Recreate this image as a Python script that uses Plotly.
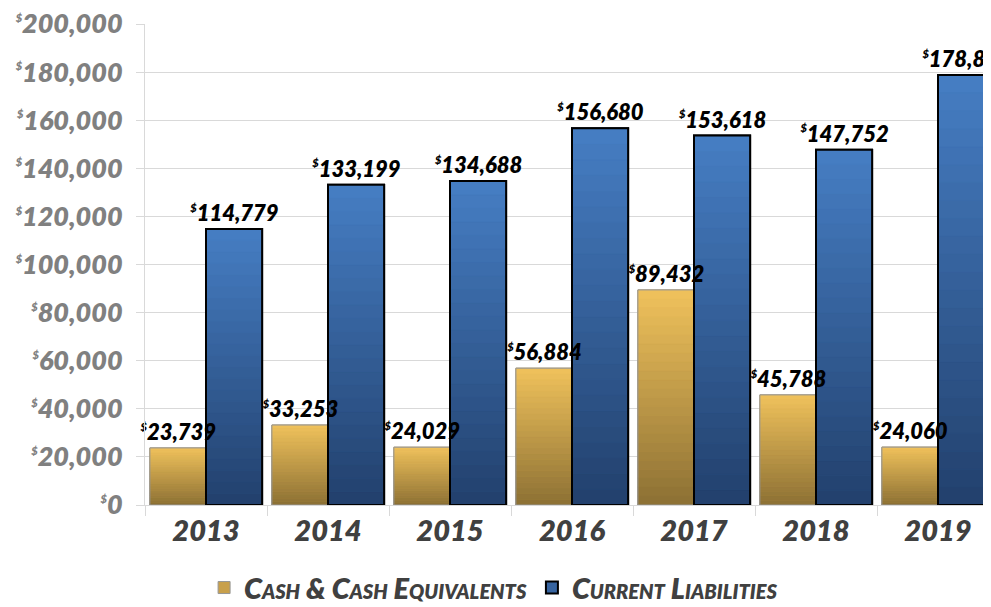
import plotly.graph_objects as go

# Data
years = ['2013', '2014', '2015', '2016', '2017', '2018', '2019']
cash = [23739, 33253, 24029, 56884, 89432, 45788, 24060]
liabilities = [114779, 133199, 134688, 156680, 153618, 147752, 178828]
y_ticks = list(range(0, 200001, 20000))

SMALL_DOLLAR = '<sup><span style="font-size:11px">$</span></sup>'
y_tick_labels = [SMALL_DOLLAR + '{:,}'.format(v) for v in y_ticks]

N_STEPS = 24


def mix(c1, c2, t):
    """Blend two rgb tuples, t=0 -> c1, t=1 -> c2."""
    return 'rgb({},{},{})'.format(*[int(round(a + (b - a) * t)) for a, b in zip(c1, c2)])


def money(v):
    return SMALL_DOLLAR + '{:,}'.format(v)


series = [
    dict(name='Cash & Cash Equivalents', values=cash, group='cash',
         top=(240, 194, 92), bottom=(140, 112, 52), mid='rgb(200,160,75)',
         line_color='rgb(150,150,150)', line_width=1),
    dict(name='Current Liabilities', values=liabilities, group='liab',
         top=(70, 126, 196), bottom=(34, 64, 108), mid='rgb(55,100,160)',
         line_color='black', line_width=2),
]

label_font = dict(family='Lato, DejaVu Sans', size=22, color='black', weight=800, style='italic')

fig = go.Figure()

# Legend swatches (drawn first, hidden behind gradient)
for s in series:
    fig.add_trace(go.Bar(
        x=years, y=s['values'], name=s['name'], offsetgroup=s['group'],
        marker=dict(color=s['mid'], line=dict(color=s['line_color'], width=s['line_width'])),
        hoverinfo='skip',
    ))

# Gradient bodies: thin stacked slices from bottom to top
for s in series:
    for k in range(N_STEPS):
        col = mix(s['bottom'], s['top'], (k + 0.5) / N_STEPS)
        fig.add_trace(go.Bar(
            x=years,
            y=[v / N_STEPS for v in s['values']],
            base=[v * k / N_STEPS for v in s['values']],
            offsetgroup=s['group'], showlegend=False, hoverinfo='skip',
            marker=dict(color=col, line=dict(color=col, width=0.6)),
        ))

# Outlines and value labels on top
for s in series:
    fig.add_trace(go.Bar(
        x=years, y=s['values'], offsetgroup=s['group'], showlegend=False,
        marker=dict(color='rgba(0,0,0,0)', line=dict(color=s['line_color'], width=s['line_width'])),
        text=[money(v) for v in s['values']], textposition='outside',
        textfont=label_font, constraintext='none', cliponaxis=False, textangle=0,
        name=s['name'],
    ))

fig.update_layout(
    width=991, height=607,
    margin=dict(l=137, r=0, t=16, b=110, autoexpand=False),
    barmode='group', bargap=0.08, bargroupgap=0,
    plot_bgcolor='white', paper_bgcolor='white',
    showlegend=True,
    legend=dict(
        orientation='h', xref='container', x=0.49, xanchor='center',
        yref='container', y=0.045, yanchor='middle',
        font=dict(family='Lato, DejaVu Sans', size=29, color='rgb(64,64,64)',
                  weight=800, style='italic', variant='small-caps'),
        itemwidth=30, traceorder='normal',
    ),
)

fig.update_xaxes(
    type='category', range=[-0.5, 6.5], automargin=False,
    showline=True, linecolor='rgb(217,217,217)', linewidth=1,
    ticks='outside', tickson='boundaries', ticklen=10, tickcolor='rgb(217,217,217)',
    tickfont=dict(family='Lato, DejaVu Sans', size=29, color='rgb(64,64,64)', weight=800, style='italic'),
)

fig.update_yaxes(
    range=[0, 200000], tickvals=y_ticks, ticktext=y_tick_labels, automargin=False,
    ticklabeloverflow='allow',
    showgrid=True, gridcolor='rgb(217,217,217)', gridwidth=1,
    showline=True, linecolor='rgb(217,217,217)', linewidth=1,
    ticks='outside', ticklen=8, tickcolor='rgb(217,217,217)', ticklabelstandoff=8,
    tickfont=dict(family='Lato, DejaVu Sans', size=27, color='rgb(128,128,128)', weight=800, style='italic'),
    zeroline=False,
)

fig.write_html('out.html')
